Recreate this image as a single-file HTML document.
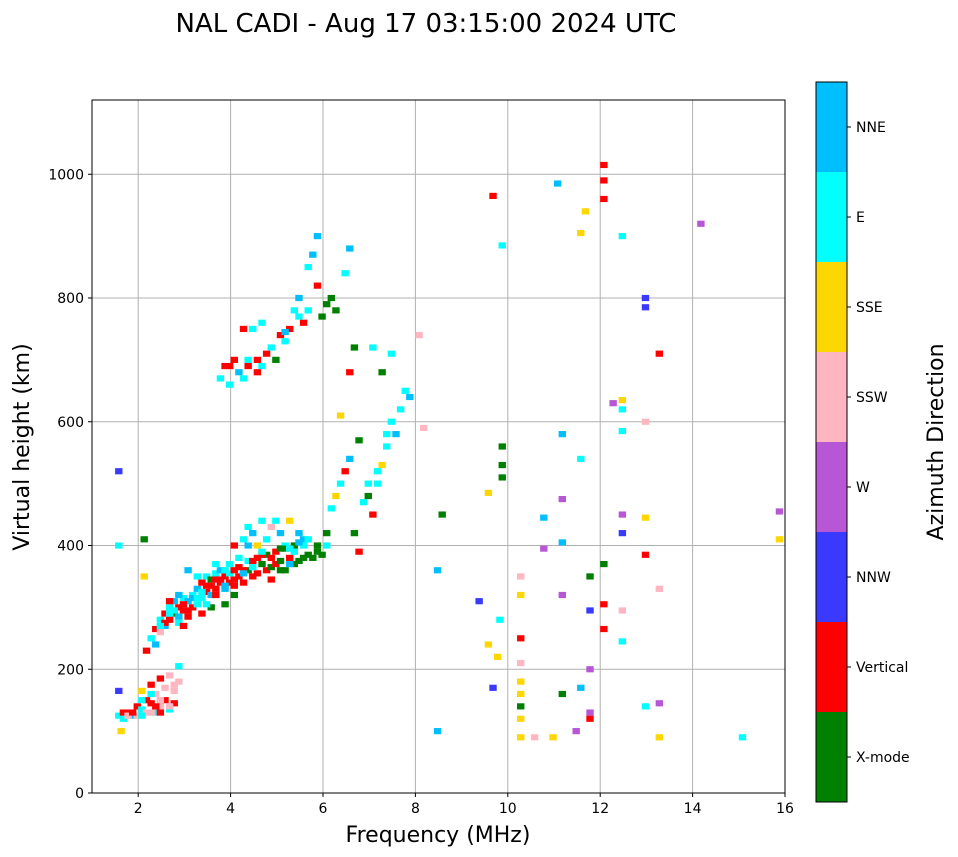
<!DOCTYPE html>
<html><head><meta charset="utf-8"><style>
body{margin:0;background:#fff;}
svg{display:block;font-family:"DejaVu Sans","Liberation Sans",sans-serif;}
</style></head><body>
<svg id="chart" width="958" height="857" viewBox="0 0 958 857">
<text x="426" y="32" text-anchor="middle" font-size="26">NAL CADI - Aug 17 03:15:00 2024 UTC</text>
<g id="grid"></g>
<g id="marks"></g>
<rect x="92" y="100" width="693" height="693" fill="none" stroke="#000" stroke-width="1"/>
<g id="xt"></g>
<g id="yt"></g>
<text x="438" y="842" text-anchor="middle" font-size="22">Frequency (MHz)</text>
<text transform="translate(29,447) rotate(-90)" text-anchor="middle" font-size="22">Virtual height (km)</text>
<g id="cbar"></g>
<text transform="translate(943,442) rotate(-90)" text-anchor="middle" font-size="22">Azimuth Direction</text>
</svg>
<script>
const catNames=["X-mode","Vertical","NNW","W","SSW","SSE","E","NNE"];
const catColors=["#008000","#ff0000","#3a3aff","#b757d6","#ffb6c1","#ffd700","#00ffff","#00bfff"];
const xTicks=[2,4,6,8,10,12,14,16];
const yTicks=[0,200,400,600,800,1000];
const freqs=[1.5,1.5,1.55,1.6,1.7,1.8,1.9,1.9,2.0,2.0,2.1,2.1,2.2,2.2,2.3,2.3,2.4,2.4,2.5,2.5,2.6,2.6,2.7,2.7,2.8,2.8,1.5,1.5,2.05,2.05,
2.1,2.2,2.3,2.3,2.4,2.4,2.5,2.5,2.6,2.6,2.7,2.7,2.8,2.8,2.9,2.9,3.0,3.0,3.1,3.1,3.2,3.2,3.3,3.3,3.4,3.4,3.5,3.5,3.6,3.6,3.7,3.7,3.8,3.8,3.9,3.9,4.0,4.0,4.1,4.1,4.2,4.2,4.3,4.3,4.4,4.4,4.5,4.5,4.6,4.6,4.7,4.7,4.8,4.8,4.9,4.9,5.0,5.0,5.1,5.1,5.2,5.2,5.3,5.3,5.4,5.4,5.5,5.5,5.6,5.7,5.8,5.9,6.0,3.0,3.5,3.3,2.9,3.6,4.0,4.3,
2.5,2.7,2.9,3.1,3.3,3.5,3.7,3.9,4.1,4.3,4.5,4.7,4.9,5.1,5.3,5.5,3.2,3.4,3.8,4.2,4.6,5.0,2.6,2.8,3.0,
3.6,3.8,4.0,4.2,4.4,4.6,4.8,5.0,5.2,5.4,3.4,3.6,3.8,4.0,4.4,4.8,5.2,5.6,5.8,2.4,2.6,2.8,3.2,
1.6,1.7,1.8,2.0,2.2,2.4,2.6,2.2,2.4,2.7,2.0,2.3,
3.7,3.8,3.9,4.0,4.1,4.2,4.3,4.4,4.5,4.6,4.7,4.8,4.9,5.0,5.1,5.2,5.3,5.4,5.5,5.6,5.7,5.8,5.6,5.9,6.0,6.1,6.2,6.4,6.5,5.8,4.6,4.2,3.9,4.3,4.5,5.1,5.4,
6.0,6.1,6.2,6.3,6.4,6.5,6.6,6.7,6.8,6.9,7.0,7.1,7.2,7.3,7.4,7.5,7.6,7.7,7.8,7.0,7.4,6.5,6.3,6.7,7.2,6.6,6.9,7.1,7.3,
8.0,8.1,8.5,8.4,8.4,9.3,9.6,9.5,9.5,9.6,9.7,9.75,9.8,9.8,9.8,9.8,10.2,10.2,10.2,10.2,10.2,10.2,10.2,10.2,10.2,10.5,10.7,10.7,10.9,11.0,11.1,11.1,11.1,11.1,11.1,11.4,11.5,11.5,11.5,11.6,11.7,11.7,11.7,11.7,11.7,12.0,12.0,12.0,12.0,12.0,12.0,12.2,12.4,12.4,12.4,12.4,12.4,12.4,12.4,12.4,12.9,12.9,12.9,12.9,12.9,12.9,13.2,13.2,13.2,13.2,14.1,15.0,15.8,15.8];
const heights=[125,165,100,120,130,125,140,125,135,165,150,130,145,175,160,130,185,140,150,170,135,190,165,145,180,205,520,400,410,350,
230,250,265,240,280,260,290,270,300,280,310,290,300,275,315,295,310,285,320,300,330,305,340,315,350,325,345,320,355,330,340,360,350,305,370,340,345,320,380,350,410,340,430,360,420,350,400,355,440,370,410,360,430,365,440,370,420,375,400,360,440,380,390,370,420,375,400,380,385,380,390,385,400,360,300,290,270,370,400,400,
275,295,305,315,325,335,345,355,365,375,380,385,390,395,400,410,315,335,330,360,385,395,290,285,295,
345,360,360,355,375,390,345,360,395,405,305,320,335,335,365,380,370,410,400,270,310,320,350,
130,125,130,125,130,130,140,160,150,175,150,140,
670,690,660,700,680,670,690,750,700,690,710,720,700,740,730,750,780,800,760,850,870,820,780,770,790,800,780,840,880,900,760,750,690,700,680,745,770,
420,460,480,500,520,540,420,390,470,480,450,500,530,560,600,580,620,650,640,720,710,680,610,570,680,720,500,520,580,
740,590,450,360,100,310,965,485,240,170,220,280,885,560,530,510,350,320,250,210,180,160,140,120,90,90,445,395,90,985,580,475,405,320,160,100,905,540,170,940,350,295,200,130,120,1015,990,960,370,305,265,630,900,635,620,585,450,420,295,245,800,785,600,445,385,140,710,330,145,90,920,90,455,410];
const cats=[6,2,5,6,1,7,1,4,6,5,1,4,1,1,4,6,1,4,1,4,6,4,4,1,4,6,2,6,0,5,
1,6,1,7,6,4,1,7,6,1,7,0,1,6,6,1,7,1,6,1,7,6,1,6,6,1,0,7,6,1,1,7,1,0,6,1,1,0,6,1,6,1,6,0,7,1,5,1,6,0,6,1,4,0,6,1,7,0,6,0,5,1,6,0,7,0,6,0,0,0,0,0,6,7,0,1,1,6,1,7,
1,6,1,7,6,1,1,6,1,6,1,0,1,0,0,7,6,1,7,1,1,0,6,7,1,
1,6,1,7,1,6,1,0,6,7,6,1,7,1,6,1,7,6,0,6,1,7,6,
1,4,1,6,4,1,4,6,4,4,6,1,
6,1,6,1,7,6,1,6,1,6,1,6,0,1,6,1,6,7,1,6,7,1,6,0,0,0,0,6,7,7,6,1,1,6,1,7,6,
0,6,5,6,1,7,0,1,6,0,1,6,5,6,6,7,6,6,7,6,6,1,5,0,0,0,6,6,6,
4,4,0,7,7,2,1,5,5,2,5,6,6,0,0,0,4,5,1,4,5,5,0,5,5,4,7,3,5,7,7,3,7,3,0,3,5,6,7,5,0,2,3,3,1,1,1,1,0,1,1,3,6,5,6,6,3,2,4,6,2,2,4,5,1,6,1,4,3,5,3,6,3,5];
const NS="http://www.w3.org/2000/svg";
const X0=92,X1=785,Y0=793,Y1=100;
const xs=f=>X0+(f-1)/(16-1)*(X1-X0);
const ys=h=>Y0-h/1120*(Y0-Y1);
function mk(t,a,p){const e=document.createElementNS(NS,t);for(const k in a)e.setAttribute(k,a[k]);p.appendChild(e);return e;}
const grid=document.getElementById('grid'),xt=document.getElementById('xt'),yt=document.getElementById('yt');
xTicks.forEach(v=>{const x=xs(v);
 const g=mk('line',{x1:x,x2:x,y1:Y1,y2:Y0,stroke:'#b0b0b0','stroke-width':1},grid);
 
 mk('line',{x1:x,x2:x,y1:Y0,y2:Y0+4,stroke:'#000'},xt);
 const t=mk('text',{x:x,y:Y0+20,'text-anchor':'middle','font-size':14},xt);t.textContent=v;
 });
yTicks.forEach(v=>{const y=ys(v);
 const g=mk('line',{x1:X0,x2:X1,y1:y,y2:y,stroke:'#b0b0b0','stroke-width':1},grid);
 
 mk('line',{x1:X0-4,x2:X0,y1:y,y2:y,stroke:'#000'},yt);
 const t=mk('text',{x:X0-8,y:y+5,'text-anchor':'end','font-size':14},yt);t.textContent=v;
 });
const marks=document.getElementById('marks');
for(let i=0;i<freqs.length;i++){
 const x=xs(freqs[i]),y=ys(heights[i]+5);
 const r=mk('rect',{x:x,y:y,width:xs(freqs[i]+0.16)-x,height:ys(heights[i]-5)-y,fill:catColors[cats[i]]},marks);
 
 
}
const cb=document.getElementById('cbar');const CT=82,CB=802,seg=(CB-CT)/8;
catNames.forEach((n,i)=>{const y=CB-(i+1)*seg;
 const r=mk('rect',{x:816,y:y,width:31,height:seg,fill:catColors[i]},cb);
 
 mk('line',{x1:847,x2:851,y1:y+seg/2,y2:y+seg/2,stroke:'#000'},cb);
 const t=mk('text',{x:856,y:y+seg/2+5,'font-size':14},cb);t.textContent=n;
 });
mk('rect',{x:816,y:CT,width:31,height:CB-CT,fill:'none',stroke:'#000'},cb);
</script>
</body></html>
